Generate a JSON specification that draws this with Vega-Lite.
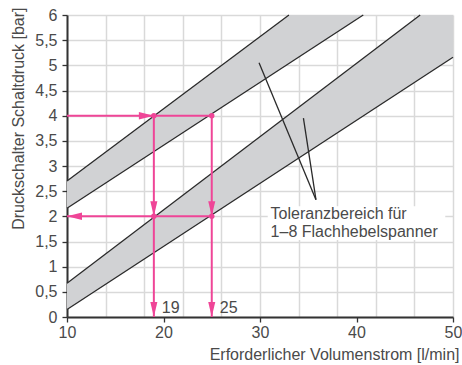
{
  "$schema": "https://vega.github.io/schema/vega-lite/v6.json",
  "width": 386,
  "height": 302,
  "autosize": {"type": "none"},
  "padding": {"left": 67, "top": 15, "right": 9, "bottom": 48},
  "background": "white",
  "config": {
    "view": {"stroke": null},
    "font": "Liberation Sans",
    "axis": {
      "labelFont": "Liberation Sans",
      "titleFont": "Liberation Sans",
      "labelFontSize": 16,
      "titleFontSize": 16,
      "labelColor": "#4a4a4a",
      "titleColor": "#4a4a4a",
      "titleFontWeight": "normal",
      "gridColor": "#d9d9d9",
      "gridWidth": 1.5,
      "domainColor": "#333333",
      "domainWidth": 2,
      "tickColor": "#333333",
      "tickWidth": 1.3,
      "tickSize": 5
    }
  },
  "datasets": {
    "bands": [
      {"band": "A", "x": 10, "lo": 2.16, "hi": 2.70},
      {"band": "A", "x": 33, "lo": 5.04, "hi": 6},
      {"band": "A", "x": 40.7, "lo": 6, "hi": 6},
      {"band": "B", "x": 10, "lo": 0.15, "hi": 0.67},
      {"band": "B", "x": 46.6, "lo": 4.74, "hi": 6},
      {"band": "B", "x": 50, "lo": 5.16, "hi": 6}
    ],
    "lines": [
      {"id": "A-hi", "x": 10, "y": 2.70},
      {"id": "A-hi", "x": 33, "y": 6},
      {"id": "A-lo", "x": 10, "y": 2.16},
      {"id": "A-lo", "x": 40.7, "y": 6},
      {"id": "B-hi", "x": 10, "y": 0.67},
      {"id": "B-hi", "x": 46.6, "y": 6},
      {"id": "B-lo", "x": 10, "y": 0.15},
      {"id": "B-lo", "x": 50, "y": 5.16},
      {"id": "L1", "x": 29.9, "y": 5.05},
      {"id": "L1", "x": 35.8, "y": 2.33},
      {"id": "L2", "x": 34.5, "y": 3.95},
      {"id": "L2", "x": 35.8, "y": 2.33}
    ],
    "pinklines": [
      {"x": 10, "y": 4, "x2": 25, "y2": 4},
      {"x": 10, "y": 2, "x2": 25, "y2": 2},
      {"x": 19, "y": 4, "x2": 19, "y2": 0},
      {"x": 25, "y": 4, "x2": 25, "y2": 0}
    ],
    "arrows": [
      {"x": 19, "y": 4, "dir": "right"},
      {"x": 10, "y": 2, "dir": "left"},
      {"x": 19, "y": 2, "dir": "down"},
      {"x": 25, "y": 2, "dir": "down"},
      {"x": 19, "y": 0, "dir": "down"},
      {"x": 25, "y": 0, "dir": "down"}
    ],
    "dots": [
      {"x": 19, "y": 4},
      {"x": 25, "y": 4},
      {"x": 19, "y": 2},
      {"x": 25, "y": 2}
    ],
    "vals": [
      {"x": 19, "y": 0, "label": "19"},
      {"x": 25, "y": 0, "label": "25"}
    ],
    "box": [
      {"x": 30.8, "x2": 49.2, "y": 1.53, "y2": 2.2}
    ],
    "note": [
      {"x": 31.1, "y": 1.95, "text": "Toleranzbereich für"},
      {"x": 31.1, "y": 1.59, "text": "1–8 Flachhebelspanner"}
    ]
  },
  "encoding": {
    "x": {
      "field": "x", "type": "quantitative",
      "scale": {"domain": [10, 50], "nice": false, "zero": false},
      "axis": {
        "values": [10, 14, 18, 20, 22, 26, 30, 34, 38, 40, 42, 46, 50],
        "labelExpr": "datum.value % 10 == 0 ? datum.label : ''",
        "labelOverlap": false,
        "tickOpacity": {"condition": {"test": "datum.value % 10 == 0", "value": 1}, "value": 0},
        "gridOpacity": {"condition": {"test": "(datum.value - 10) % 4 == 0", "value": 1}, "value": 0},
        "labelPadding": 2,
        "labelFlush": false,
        "title": "Erforderlicher Volumenstrom [l/min]",
        "titleAnchor": "end",
        "titleAlign": "right",
        "titleX": 392,
        "titleY": 42,
        "titleBaseline": "alphabetic"
      }
    },
    "y": {
      "field": "y", "type": "quantitative",
      "scale": {"domain": [0, 6], "nice": false},
      "axis": {
        "values": [0, 0.5, 1, 1.5, 2, 2.5, 3, 3.5, 4, 4.5, 5, 5.5, 6],
        "labelExpr": "replace(format(datum.value, '~g'), '.', ',')",
        "labelOverlap": false,
        "labelPadding": 5,
        "labelFlush": false,
        "title": "Druckschalter Schaltdruck [bar]",
        "titleAngle": -90,
        "titleAlign": "right",
        "titleBaseline": "middle",
        "titleX": -49,
        "titleY": -8
      }
    }
  },
  "layer": [
    {
      "data": {"name": "bands"},
      "mark": {"type": "area", "color": "#d1d2d4", "clip": true},
      "encoding": {
        "y": {"field": "lo", "type": "quantitative"},
        "y2": {"field": "hi"},
        "detail": {"field": "band"}
      }
    },
    {
      "data": {"name": "box"},
      "mark": {"type": "rect", "color": "white"},
      "encoding": {
        "x2": {"field": "x2"},
        "y2": {"field": "y2"}
      }
    },
    {
      "data": {"name": "lines"},
      "mark": {"type": "line", "color": "#2a2a2a", "strokeWidth": 1.3},
      "encoding": {"detail": {"field": "id"}}
    },
    {
      "data": {"name": "pinklines"},
      "mark": {"type": "rule", "color": "#ef4597", "strokeWidth": 2},
      "encoding": {
        "x2": {"field": "x2"},
        "y2": {"field": "y2"}
      }
    },
    {
      "data": {"name": "arrows"},
      "mark": {"type": "point", "filled": true, "opacity": 1, "size": 225, "strokeWidth": 0, "color": "#ef4597"},
      "encoding": {
        "shape": {
          "field": "dir", "type": "nominal", "legend": null,
          "scale": {
            "domain": ["down", "left", "right"],
            "range": ["M-0.47,-2L0.47,-2L0,0Z", "M2,-0.5L2,0.5L0,0Z", "M-2,-0.5L-2,0.5L0,0Z"]
          }
        }
      }
    },
    {
      "data": {"name": "dots"},
      "mark": {"type": "circle", "size": 30, "opacity": 1, "color": "#ef4597"}
    },
    {
      "data": {"name": "vals"},
      "mark": {"type": "text", "align": "left", "baseline": "bottom", "dx": 8, "dy": -1, "fontSize": 16, "color": "#4a4a4a", "font": "Liberation Sans"},
      "encoding": {"text": {"field": "label"}}
    },
    {
      "data": {"name": "note"},
      "mark": {"type": "text", "align": "left", "baseline": "alphabetic", "fontSize": 16, "color": "#4a4a4a", "font": "Liberation Sans"},
      "encoding": {"text": {"field": "text"}}
    }
  ]
}
